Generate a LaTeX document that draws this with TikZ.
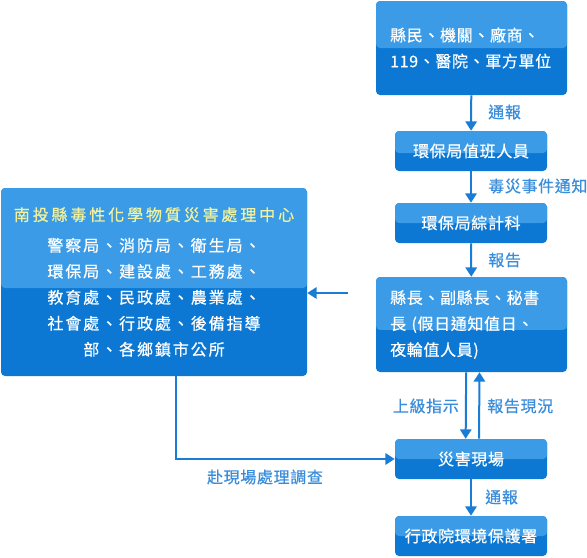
\documentclass[tikz,border=0pt]{standalone}
\usepackage{fontspec}
\setmainfont{Noto Sans CJK TC}
\newfontfamily\cjktitle[LetterSpace=18,FakeBold=0.6]{Noto Sans CJK TC}
\newfontfamily\cjkwide[LetterSpace=12,FakeBold=0.6]{Noto Sans CJK TC}
\newfontfamily\cjkmid[LetterSpace=4,FakeBold=0.6]{Noto Sans CJK TC}
\usetikzlibrary{arrows.meta,calc}
\definecolor{topc}{HTML}{3B9BE6}
\definecolor{botc}{HTML}{0C78D3}
\definecolor{linec}{HTML}{1A7DD5}
\definecolor{labc}{HTML}{3A8DDA}
\definecolor{titc}{HTML}{F2F29C}
\begin{document}
\begin{tikzpicture}[x=0.75pt,y=-0.75pt,
  box/.style={fill=botc, rounded corners=3pt, text=white, inner sep=0pt,
    font=\cjkmid\fontsize{12}{19.5}\selectfont,
    path picture={\fill[topc] (path picture bounding box.north west) rectangle ([yshift=#1]path picture bounding box.east);}},
  box/.default=0pt,
  arr/.style={draw=linec, line width=1.5pt, -{Triangle[width=8.5pt,length=7pt]}},
  lab/.style={text=labc, inner sep=0pt, font=\cjkmid\fontsize{12}{14}\selectfont}]
\useasboundingbox (0,0) rectangle (587,558);

\node[box, minimum width=143.25pt, minimum height=70.5pt, text width=122pt, align=left] (b1) at (471.5,48)
  {縣民、機關、廠商、\\119、醫院、軍方單位};
\node[box=-1.5pt, minimum width=114pt, minimum height=30pt] (b2) at (471,151) {環保局值班人員};
\node[box, minimum width=114pt, minimum height=30pt] (b3) at (471,223) {環保局綜計科};
\node[box=-4pt, minimum width=143.25pt, minimum height=71.25pt, text width=122pt, align=left] (b4) at (471.5,324.5)
  {縣長、副縣長、秘書\\長 (假日通知值日、\\夜輪值人員)};
\node[box=-4.5pt, minimum width=229.5pt, minimum height=141pt, align=center,
  font=\cjkwide\fontsize{12}{19.5}\selectfont] (lb) at (154,282)
  {{\cjktitle\textcolor{titc}{南投縣毒性化學物質災害處理中心}}\\[3.5pt]
   警察局、消防局、衛生局、\\環保局、建設處、工務處、\\教育處、民政處、農業處、\\社會處、行政處、後備指導\\部、各鄉鎮市公所};
\node[box, minimum width=114pt, minimum height=30pt] (b5) at (471,459) {災害現場};
\node[box, minimum width=114pt, minimum height=30pt] (b6) at (471,536) {行政院環境保護署};

\draw[arr] (b1) -- (b2);
\draw[arr] (b2) -- (b3);
\draw[arr] (b3) -- (b4);
\draw[arr] (b5) -- (b6);
\coordinate (s) at (348,293);
\draw[arr] (s) -- (s -| lb.east);
\draw[arr] ([xshift=-4pt]b4.south) -- ([xshift=-4pt]b5.north);
\draw[arr] ([xshift=6pt]b5.north) -- ([xshift=6pt]b4.south);
\draw[arr] ([xshift=16.5pt]lb.south) |- (b5.west);

\node[lab, anchor=west] (l1) at (488,112) {通報};
\node[lab, anchor=west] (l2) at (488,186) {毒災事件通知};
\node[lab, anchor=west] (l3) at (488,260) {報告};
\node[lab, anchor=east] (l4) at (459,406) {上級指示};
\node[lab, anchor=west] (l5) at (487,406) {報告現況};
\node[lab] (l6) at (265,477) {赴現場處理調查};
\node[lab, anchor=west] (l7) at (485,497) {通報};
\end{tikzpicture}
\end{document}
